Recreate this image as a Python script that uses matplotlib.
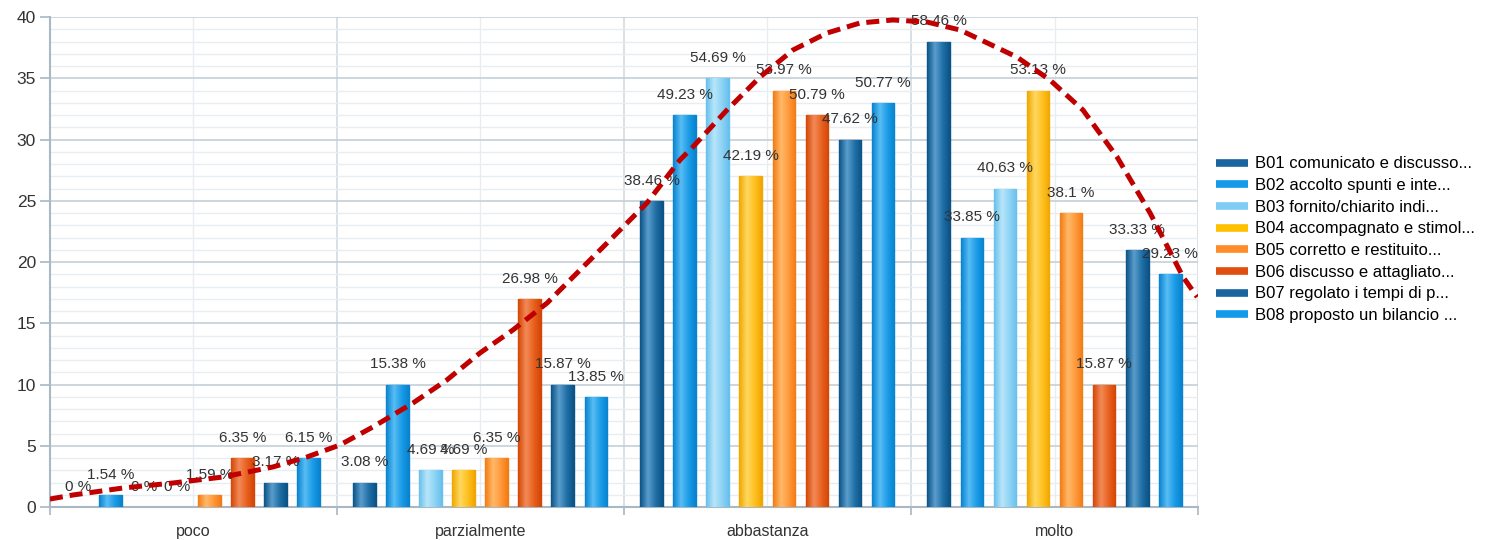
import numpy as np
import matplotlib
matplotlib.use('Agg')
import matplotlib.pyplot as plt
from matplotlib.colors import LinearSegmentedColormap
from matplotlib.lines import Line2D

plt.rcParams['font.family'] = ['Liberation Sans', 'DejaVu Sans']

categories = ['poco', 'parzialmente', 'abbastanza', 'molto']
series = ['B01 comunicato e discusso...', 'B02 accolto spunti e inte...',
          'B03 fornito/chiarito indi...', 'B04 accompagnato e stimol...',
          'B05 corretto e restituito...', 'B06 discusso e attagliato...',
          'B07 regolato i tempi di p...', 'B08 proposto un bilancio ...']

# counts per series, one value per category
counts = [
    [0, 2, 25, 38],
    [1, 10, 32, 22],
    [0, 3, 35, 26],
    [0, 3, 27, 34],
    [1, 4, 34, 24],
    [4, 17, 32, 10],
    [2, 10, 30, 21],
    [4, 9, 33, 19],
]
percent_labels = [
    ['0 %', '3.08 %', '38.46 %', '58.46 %'],
    ['1.54 %', '15.38 %', '49.23 %', '33.85 %'],
    ['0 %', '4.69 %', '54.69 %', '40.63 %'],
    ['0 %', '4.69 %', '42.19 %', '53.13 %'],
    ['1.59 %', '6.35 %', '53.97 %', '38.1 %'],
    ['6.35 %', '26.98 %', '50.79 %', '15.87 %'],
    ['3.17 %', '15.87 %', '47.62 %', '33.33 %'],
    ['6.15 %', '13.85 %', '50.77 %', '29.23 %'],
]

# hand drawn red dashed curve (category position, value)
curve_x = [-0.5, -0.42, -0.246, -0.071, 0.103, 0.277, 0.395, 0.51, 0.625, 0.765,
           0.883, 0.998, 1.113, 1.232, 1.347, 1.462, 1.58, 1.695, 1.74, 1.859,
           1.974, 2.089, 2.207, 2.322, 2.437, 2.556, 2.671, 2.869, 2.984, 3.099,
           3.218, 3.333, 3.448, 3.497]
curve_y = [0.65, 0.98, 1.55, 1.96, 2.45, 3.27, 4.08, 5.06, 6.53, 8.49,
           10.37, 12.57, 14.45, 16.65, 19.35, 22.04, 24.82, 28.33, 29.39, 32.41,
           35.1, 37.31, 38.69, 39.51, 39.76, 39.59, 38.94, 36.73, 34.86, 32.41,
           28.57, 24.0, 18.78, 17.14]

# (light, mid, dark) per series for the cylinder-like shading
shades = [
    ('#5a9dcc', '#1f6fa6', '#0b5387'),
    ('#58bdf4', '#1a9be6', '#0883d0'),
    ('#b8e6fa', '#8dd3f5', '#68c0ec'),
    ('#ffd860', '#ffc020', '#f0a600'),
    ('#ffb868', '#ff983a', '#f27c14'),
    ('#f28a58', '#e8601e', '#d54606'),
    ('#5a9dcc', '#1f6fa6', '#0b5387'),
    ('#58bdf4', '#1a9be6', '#0883d0'),
]
legend_colors = ['#1a64a0', '#139ae8', '#7fcdf5', '#ffc000',
                 '#ff8c2a', '#e04e10', '#1a64a0', '#139ae8']

fig = plt.figure(figsize=(14.86, 5.4), dpi=100)
ax = fig.add_axes([0.0336, 0.0611, 0.7726, 0.9074])

x = np.arange(len(categories))
step = 0.115
width = 0.08
grad = np.linspace(0, 1, 64).reshape(1, -1)

for j, vals in enumerate(counts):
    pos = x + (j - 3.5) * step
    light, mid, dark = shades[j]
    bars = ax.bar(pos, vals, width, color=mid, edgecolor=dark, linewidth=1.0, zorder=3)
    cmap = LinearSegmentedColormap.from_list('s%d' % j, [(0, dark), (0.35, light), (0.7, mid), (1, dark)])
    for b in bars:
        h = b.get_height()
        if h <= 0:
            b.set_visible(False)
            continue
        im = ax.imshow(grad, cmap=cmap, aspect='auto', zorder=3.5,
                       extent=[b.get_x(), b.get_x() + b.get_width(), 0, h])
        im.set_clip_path(b)
    for p, v, lab in zip(pos, vals, percent_labels[j]):
        ax.annotate(lab, (p, v), xytext=(0, 14.5), textcoords='offset points',
                    ha='center', va='center', fontsize=11, color='#333333', zorder=5)

ax.plot(curve_x, curve_y, color='#c00000', lw=3.6, dashes=(2.6, 1.4), zorder=6,
        solid_capstyle='butt', dash_capstyle='butt')

ax.set_xlim(-0.5, 3.5)
ax.set_ylim(0, 40)
ax.set_yticks(np.arange(0, 41, 5))
ax.set_yticks(np.arange(0, 41, 1), minor=True)
ax.set_xticks(np.arange(-0.5, 3.6, 1))
ax.set_xticklabels([])
ax.set_xticks(x, minor=True)
ax.set_xticklabels(categories, minor=True)

ax.grid(True, which='major', axis='y', color='#c5d0d8', lw=1.2, zorder=0)
ax.grid(True, which='minor', axis='y', color='#e8edf1', lw=1.0, zorder=0)
ax.grid(True, which='major', axis='x', color='#d3dbe1', lw=1.2, zorder=0)
ax.grid(True, which='minor', axis='x', color='#e8edf1', lw=1.0, zorder=0)
ax.set_axisbelow(True)

for s in ['top', 'right']:
    ax.spines[s].set_visible(False)
for s in ['left', 'bottom']:
    ax.spines[s].set_color('#a9b8c2')
    ax.spines[s].set_linewidth(1.5)

ax.tick_params(axis='y', which='major', length=7, color='#a9b8c2', width=1.2,
               labelsize=12.5, labelcolor='#333333', pad=3)
ax.tick_params(axis='y', which='minor', length=0)
ax.tick_params(axis='x', which='major', length=6, color='#a9b8c2', width=1.2)
ax.tick_params(axis='x', which='minor', length=0, labelsize=11.5, labelcolor='#333333', pad=12)

handles = [Line2D([0], [0], color=c, lw=5.5, solid_capstyle='butt') for c in legend_colors]
fig.legend(handles, series, loc='center left', bbox_to_anchor=(0.814, 0.556),
           frameon=False, fontsize=12, handlelength=1.9, handletextpad=0.45,
           labelspacing=0.4, borderaxespad=0)

fig.savefig('out.png', dpi=100)
